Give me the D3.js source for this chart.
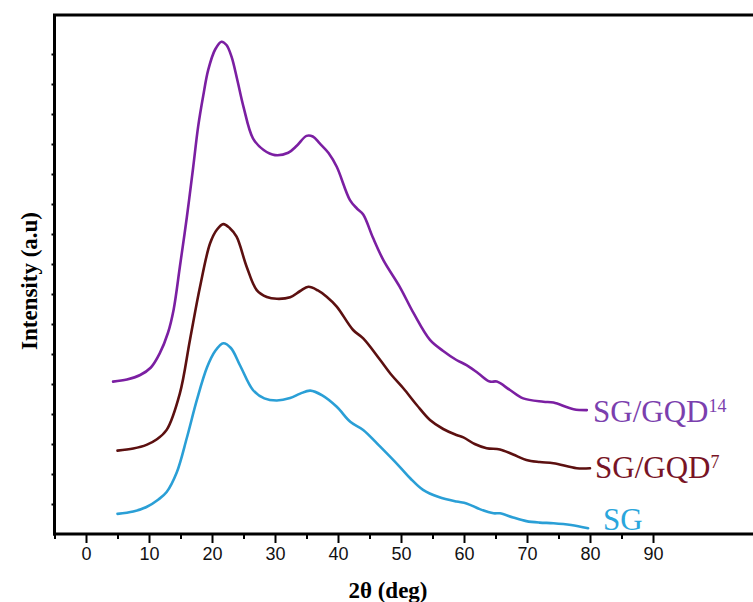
<!DOCTYPE html>
<html>
<head>
<meta charset="utf-8">
<script src="https://cdn.jsdelivr.net/npm/d3@7"></script>
<style>
  html, body { margin: 0; padding: 0; background: #fff; }
  svg { display: block; }
</style>
</head>
<body>
<svg id="chart" width="753" height="602"></svg>
<script>
// ---- data ----
const xTickLabels = [0, 10, 20, 30, 40, 50, 60, 70, 80, 90];
const xMinorTicks = [-5, 5, 15, 25, 35, 45, 55, 65, 75, 85];
const yTicks = [1, 2, 3, 4, 5, 6, 7, 8, 9, 10, 11, 12, 13, 14, 15, 16];

const sgX = [5, 7.5, 9.6, 11.5, 12.8, 14.4, 16, 17.6, 19.2, 20.5, 21.8, 23, 24.5, 26.5, 28.3, 30.3, 32.4, 34, 35.6, 37.5, 39.8, 42, 44, 46.7, 49.8, 51.5, 53.5, 56, 58.8, 60.4, 62.5, 64.7, 65.7, 67.8, 69.9, 72, 74.2, 77, 79.7];
const sgY = [0.67, 0.75, 0.9, 1.15, 1.4, 2.05, 3.2, 4.47, 5.55, 6.1, 6.36, 6.2, 5.6, 4.8, 4.52, 4.45, 4.53, 4.68, 4.78, 4.62, 4.24, 3.73, 3.47, 2.91, 2.24, 1.85, 1.47, 1.23, 1.08, 1.02, 0.83, 0.69, 0.69, 0.55, 0.43, 0.38, 0.36, 0.3, 0.19];

const gqd7X = [5, 7.5, 9.6, 11.2, 12.8, 14.9, 16.5, 18.1, 19.7, 20.8, 21.8, 22.8, 23.9, 25.5, 27.1, 28.7, 30.3, 32.4, 34, 35.3, 36.8, 38.2, 39.8, 42.4, 44, 46.7, 48.5, 50.4, 52.5, 54.6, 56.7, 58.8, 59.9, 61.7, 63.6, 65.7, 67.8, 69.9, 72, 74.2, 77.9, 80];
const gqd7Y = [2.78, 2.85, 2.97, 3.15, 3.47, 4.69, 6.47, 8.24, 9.69, 10.15, 10.33, 10.2, 9.91, 8.91, 8.13, 7.9, 7.84, 7.89, 8.1, 8.24, 8.12, 7.91, 7.58, 6.8, 6.52, 5.8, 5.3, 4.85, 4.3, 3.8, 3.5, 3.3, 3.22, 3.0, 2.86, 2.82, 2.65, 2.47, 2.4, 2.36, 2.19, 2.19];

const gqd14X = [4.3, 6.5, 8.6, 10.3, 11.7, 13, 13.9, 14.9, 16, 17, 17.8, 18.6, 19.4, 20.5, 21.5, 22.3, 23.1, 24, 25, 26.5, 28.2, 30, 32.1, 33.5, 35, 36, 37.1, 38.5, 39.8, 41.9, 43, 44, 45.5, 47.2, 49.8, 52, 54.6, 56.7, 58.8, 60.4, 62.3, 64.1, 65.2, 67.3, 69.4, 72.6, 74.2, 77.4, 79.5];
const gqd14Y = [5.08, 5.15, 5.3, 5.55, 6.02, 6.7, 7.47, 8.91, 10.55, 12.2, 13.58, 14.6, 15.47, 16.15, 16.41, 16.3, 15.91, 15.15, 14.24, 13.19, 12.8, 12.63, 12.71, 12.95, 13.27, 13.25, 13.02, 12.7, 12.24, 11.13, 10.85, 10.65, 9.9, 9.13, 8.24, 7.36, 6.47, 6.1, 5.8, 5.63, 5.35, 5.08, 5.08, 4.8, 4.52, 4.41, 4.38, 4.16, 4.13];

const seriesNames = ["SG", "SG/GQD", "SG/GQD"];
const seriesSup = ["", "7", "14"];
const lineColors = ["#2a9fd6", "#5c1010", "#7b1fa2"];
const textColors = ["#2aa6dc", "#781425", "#7b3fae"];

// ---- layout ----
const svg = d3.select("#chart");
const x = d3.scaleLinear().domain([-5, 106]).range([54.5, 54.5 + 111 * 6.3]);
const y = d3.scaleLinear().domain([0, 17.3]).range([534, 15]);

const series = [
  sgX.map((v, i) => [v, sgY[i]]),
  gqd7X.map((v, i) => [v, gqd7Y[i]]),
  gqd14X.map((v, i) => [v, gqd14Y[i]])
];

const line = d3.line().x(d => x(d[0])).y(d => y(d[1])).curve(d3.curveCatmullRom.alpha(0.5));

series.forEach((s, i) => {
  svg.append("path").datum(s)
    .attr("d", line)
    .attr("fill", "none")
    .attr("stroke", lineColors[i])
    .attr("stroke-width", 2.6)
    .attr("stroke-linejoin", "round")
    .attr("stroke-linecap", "round");
});

// ---- axes ----
const xAxis = d3.axisBottom(x).tickValues(xTickLabels).tickSize(9).tickPadding(4).tickFormat(d3.format("d"));
const gx = svg.append("g").attr("transform", "translate(0,534)").call(xAxis);
gx.select(".domain").remove();
gx.selectAll(".tick line").attr("stroke", "#000").attr("stroke-width", 2);
gx.selectAll(".tick text").attr("font-family", "'Liberation Sans', Arial, sans-serif").attr("font-size", 18).attr("fill", "#111");

const gxm = svg.append("g").attr("transform", "translate(0,534)")
  .call(d3.axisBottom(x).tickValues(xMinorTicks).tickSize(5).tickFormat(""));
gxm.select(".domain").remove();
gxm.selectAll(".tick line").attr("stroke", "#000").attr("stroke-width", 2);

const gy = svg.append("g").attr("transform", "translate(54.5,0)")
  .call(d3.axisLeft(y).tickValues(yTicks).tickSize(3).tickFormat(""));
gy.select(".domain").remove();
gy.selectAll(".tick line").attr("stroke", "#000").attr("stroke-width", 2);

// frame lines (left, top, bottom)
svg.append("line").attr("x1", 54.5).attr("x2", 54.5).attr("y1", 14).attr("y2", 535.5).attr("stroke", "#000").attr("stroke-width", 3);
svg.append("line").attr("x1", 53).attr("x2", 753).attr("y1", 15).attr("y2", 15).attr("stroke", "#000").attr("stroke-width", 3);
svg.append("line").attr("x1", 53).attr("x2", 753).attr("y1", 534).attr("y2", 534).attr("stroke", "#000").attr("stroke-width", 3);

// axis titles
svg.append("text").attr("x", 388).attr("y", 598).attr("text-anchor", "middle")
  .attr("font-family", "'Liberation Serif', 'Times New Roman', serif").attr("font-weight", "bold").attr("font-size", 23)
  .text("2θ (deg)");
svg.append("text").attr("transform", "translate(37,281) rotate(-90)").attr("text-anchor", "middle")
  .attr("font-family", "'Liberation Serif', 'Times New Roman', serif").attr("font-weight", "bold").attr("font-size", 23)
  .text("Intensity (a.u)");

// series labels
const labelPos = [[603, 530], [595, 478], [593, 422]];
series.forEach((s, i) => {
  const t = svg.append("text").attr("x", labelPos[i][0]).attr("y", labelPos[i][1])
    .attr("font-family", "'Liberation Serif', 'Times New Roman', serif").attr("font-size", 31)
    .attr("fill", textColors[i]).text(seriesNames[i]);
  if (seriesSup[i]) {
    t.append("tspan").attr("font-size", 18).attr("dy", -10).text(seriesSup[i]);
  }
});
</script>
</body>
</html>
